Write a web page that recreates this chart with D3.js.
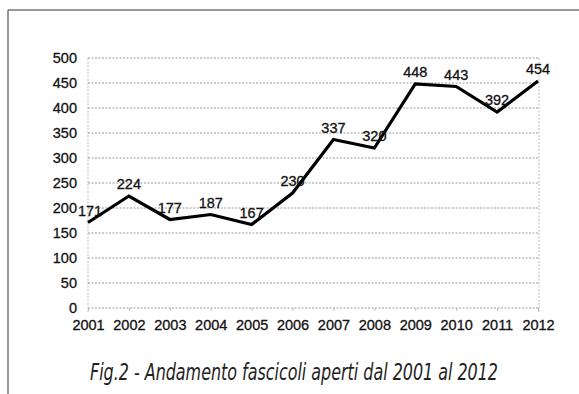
<!DOCTYPE html>
<html>
<head>
<meta charset="utf-8">
<script src="https://cdn.jsdelivr.net/npm/d3@7"></script>
<style>
  html, body { margin: 0; padding: 0; background: #fff; }
  svg { display: block; }
</style>
</head>
<body>
<svg id="chart" width="579" height="394"></svg>
<script>
// Fascicoli aperti per anno
const years = ["2001","2002","2003","2004","2005","2006","2007","2008","2009","2010","2011","2012"];
const values = [171, 224, 177, 187, 167, 230, 337, 320, 448, 443, 392, 454];
const yTicks = [0, 50, 100, 150, 200, 250, 300, 350, 400, 450, 500];
const title = "Fig.2 - Andamento fascicoli aperti dal 2001 al 2012";

(function () {
  const svg = d3.select("#chart");
  const W = 579, H = 394;
  const plotLeft = 88, plotRight = 539, plotTop = 58, plotBottom = 308;
  const labelFont = "'Liberation Sans', Arial, sans-serif";

  // frame lines (top and left)
  svg.append("line").attr("x1", 8).attr("x2", W).attr("y1", 10).attr("y2", 10)
    .attr("stroke", "#777").attr("stroke-width", 1.5);
  svg.append("line").attr("x1", 8).attr("x2", 8).attr("y1", 10).attr("y2", H)
    .attr("stroke", "#777").attr("stroke-width", 1.5);

  const x = d3.scalePoint().domain(years).range([plotLeft, plotRight - 1]).padding(0);
  const y = d3.scaleLinear().domain([0, 500]).range([plotBottom, plotTop]);

  // horizontal gridlines
  svg.append("g").selectAll("line").data(yTicks).join("line")
    .attr("x1", plotLeft).attr("x2", plotRight)
    .attr("y1", d => y(d)).attr("y2", d => y(d))
    .attr("stroke", "#999").attr("stroke-width", 1)
    .attr("stroke-dasharray", "2,1.5");

  // vertical edges of the plot area
  [plotLeft, plotRight].forEach(px => {
    svg.append("line").attr("x1", px).attr("x2", px).attr("y1", plotTop).attr("y2", plotBottom + 4)
      .attr("stroke", "#bbb").attr("stroke-width", 1).attr("stroke-dasharray", "2,1.5");
  });

  const styleText = sel => sel
    .attr("font-family", labelFont)
    .attr("font-size", 14.5).attr("fill", "#111")
    .attr("stroke", "#111").attr("stroke-width", 0.3);

  // y axis labels
  const yAxis = d3.axisLeft(y).tickValues(yTicks).tickSize(0).tickPadding(11);
  const gy = svg.append("g").attr("transform", `translate(${plotLeft},0)`).call(yAxis);
  gy.select(".domain").remove();
  gy.selectAll("text").call(styleText);

  // x axis labels
  const xAxis = d3.axisBottom(x).tickSize(3).tickPadding(9);
  const gx = svg.append("g").attr("transform", `translate(0,${plotBottom})`).call(xAxis);
  gx.select(".domain").remove();
  gx.selectAll("line").attr("stroke", "#bbb");
  gx.selectAll("text").call(styleText);

  // series line
  const line = d3.line().x((d, i) => x(years[i])).y(d => y(d));
  svg.append("path").datum(values)
    .attr("d", line)
    .attr("fill", "none").attr("stroke", "#000")
    .attr("stroke-width", 3.2).attr("stroke-linejoin", "miter");

  // value labels above points
  svg.append("g").selectAll("text").data(values).join("text")
    .attr("x", (d, i) => x(years[i]) + (i === 0 ? 2 : 0))
    .attr("y", d => y(d) - 7)
    .attr("text-anchor", "middle")
    .call(styleText)
    .text(d => d);

  // caption
  svg.append("text")
    .attr("transform", "translate(90,380) scale(1,1.12)")
    .attr("textLength", 408).attr("lengthAdjust", "spacingAndGlyphs")
    .attr("font-family", "'Liberation Sans Narrow', 'DejaVu Sans Condensed', sans-serif")
    .attr("font-style", "italic")
    .attr("font-size", 21).attr("fill", "#222")
    .text(title);
})();
</script>
</body>
</html>
